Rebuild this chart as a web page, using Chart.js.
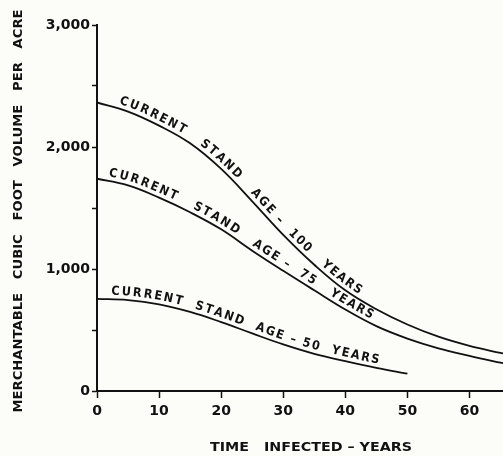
<!DOCTYPE html>
<html>
<head>
<meta charset="utf-8">
<script src="https://cdn.jsdelivr.net/npm/chart.js@4.4.1/dist/chart.umd.min.js"></script>
<style>
html,body{margin:0;padding:0;background:#fcfcf9;}
#wrap{width:503px;height:456px;}
</style>
</head>
<body>
<div id="wrap"><canvas id="c" width="503" height="456"></canvas></div>
<script>
// ---- data ----
const years = [0, 5, 10, 15, 20, 25, 30, 35, 40, 45, 50, 55, 60, 65, 66];
const age100 = [2365, 2290, 2175, 2030, 1820, 1555, 1280, 1035, 825, 670, 545, 445, 370, 312, 302];
const age75  = [1740, 1685, 1585, 1465, 1325, 1150, 985, 825, 668, 532, 430, 350, 288, 232, 222];
const age50  = [755, 745, 710, 648, 565, 472, 382, 305, 245, 190, 142];
const xTickValues = [0, 10, 20, 30, 40, 50, 60];
const curveLabels = ['CURRENT   STAND   AGE –  100   YEARS', 'CURRENT   STAND   AGE –  75   YEARS', 'CURRENT  STAND  AGE – 50  YEARS'];
const labelStart = [3.3, 1.7, 2.2];
const yTitle = 'MERCHANTABLE   CUBIC   FOOT   VOLUME   PER   ACRE';
const xTitle = 'TIME   INFECTED – YEARS';

function pts(vals) { return vals.map((v, i) => ({x: years[i], y: v})); }

const FONT = '"DejaVu Sans", sans-serif';

const bgPlugin = {
  id: 'bg',
  beforeDraw(chart) {
    const ctx = chart.ctx;
    ctx.save();
    ctx.fillStyle = '#fcfcf9';
    ctx.fillRect(0, 0, chart.width, chart.height);
    ctx.restore();
  }
};

function samplePath(meta) {
  const P = meta.data;
  const out = [];
  for (let i = 0; i < P.length - 1; i++) {
    const a = P[i], b = P[i + 1];
    const c1x = a.cp2x ?? a.x, c1y = a.cp2y ?? a.y;
    const c2x = b.cp1x ?? b.x, c2y = b.cp1y ?? b.y;
    for (let k = 0; k < 40; k++) {
      const t = k / 40, u = 1 - t;
      out.push({
        x: u*u*u*a.x + 3*u*u*t*c1x + 3*u*t*t*c2x + t*t*t*b.x,
        y: u*u*u*a.y + 3*u*u*t*c1y + 3*u*t*t*c2y + t*t*t*b.y
      });
    }
  }
  const last = P[P.length - 1];
  out.push({x: last.x, y: last.y});
  let s = 0;
  out[0].s = 0;
  for (let i = 1; i < out.length; i++) {
    s += Math.hypot(out[i].x - out[i-1].x, out[i].y - out[i-1].y);
    out[i].s = s;
  }
  return out;
}

function pointAt(path, s) {
  for (let i = 1; i < path.length; i++) {
    if (path[i].s >= s) {
      const a = path[i-1], b = path[i];
      const f = (s - a.s) / ((b.s - a.s) || 1);
      return {x: a.x + (b.x - a.x) * f, y: a.y + (b.y - a.y) * f, ang: Math.atan2(b.y - a.y, b.x - a.x)};
    }
  }
  const a = path[path.length-2], b = path[path.length-1];
  return {x: b.x, y: b.y, ang: Math.atan2(b.y - a.y, b.x - a.x)};
}

const pathTextPlugin = {
  id: 'pathText',
  afterDatasetsDraw(chart) {
    const ctx = chart.ctx;
    const xs = chart.scales.x;
    const sx = 0.9;
    ctx.save();
    ctx.font = 'bold 12.5px ' + FONT;
    ctx.fillStyle = '#111';
    ctx.textBaseline = 'alphabetic';
    chart.data.datasets.forEach((ds, di) => {
      const path = samplePath(chart.getDatasetMeta(di));
      const startPx = xs.getPixelForValue(labelStart[di]);
      let s = 0;
      for (const p of path) { if (p.x >= startPx) { s = p.s; break; } }
      const offset = 4.5;
      for (const ch of curveLabels[di]) {
        const w0 = ctx.measureText(ch).width;
        const w = w0 * sx;
        const p = pointAt(path, s + w / 2);
        const nx = Math.sin(p.ang), ny = -Math.cos(p.ang);
        ctx.save();
        ctx.translate(p.x + nx * offset, p.y + ny * offset);
        ctx.rotate(p.ang);
        ctx.scale(sx, 1);
        ctx.fillText(ch, -w0 / 2, 0);
        ctx.restore();
        s += w + 1.8;
      }
    });
    ctx.restore();
  }
};

function fitText(ctx, text, cx, cy, width, rot) {
  ctx.save();
  ctx.translate(cx, cy);
  ctx.rotate(rot);
  const w = ctx.measureText(text).width;
  ctx.scale(width / w, 1);
  ctx.fillText(text, 0, 0);
  ctx.restore();
}

const titlePlugin = {
  id: 'axisTitles',
  afterDraw(chart) {
    const ctx = chart.ctx;
    ctx.save();
    ctx.fillStyle = '#111';
    ctx.textAlign = 'center';
    ctx.textBaseline = 'middle';
    ctx.font = 'bold 12px ' + FONT;
    fitText(ctx, xTitle, 311, 448, 202, 0);
    ctx.font = 'bold 13px ' + FONT;
    fitText(ctx, yTitle, 19, 211, 403, -Math.PI / 2);
    ctx.restore();
  }
};

const lineStyle = {borderColor: '#111', borderWidth: 1.8, pointRadius: 0, fill: false, tension: 0.4};

new Chart(document.getElementById('c'), {
  type: 'line',
  data: {
    datasets: [
      Object.assign({label: 'Current stand age - 100 years', data: pts(age100)}, lineStyle),
      Object.assign({label: 'Current stand age - 75 years', data: pts(age75)}, lineStyle),
      Object.assign({label: 'Current stand age - 50 years', data: pts(age50)}, lineStyle)
    ]
  },
  options: {
    responsive: false,
    animation: false,
    layout: {padding: {top: 25, right: 0, left: 0, bottom: 0}},
    plugins: {legend: {display: false}, tooltip: {enabled: false}},
    scales: {
      x: {
        type: 'linear',
        min: 0,
        max: 65.4,
        afterBuildTicks(scale) { scale.ticks = xTickValues.map(v => ({value: v})); },
        afterFit(scale) { scale.height = 65; },
        border: {display: true, color: '#111', width: 2},
        grid: {drawOnChartArea: false, drawTicks: true, tickLength: 7, tickWidth: 1.5, tickColor: '#111'},
        ticks: {color: '#111', padding: 5, maxRotation: 0, autoSkip: false,
                font: {family: FONT, size: 14, weight: 'bold'}}
      },
      y: {
        min: 0,
        max: 3000,
        afterFit(scale) { scale.width = 97; },
        border: {display: true, color: '#111', width: 2},
        grid: {drawOnChartArea: false, drawTicks: true, tickLength: 5, tickWidth: 1.5, tickColor: '#111'},
        ticks: {stepSize: 500, color: '#111', padding: 2, autoSkip: false,
                font: {family: FONT, size: 14, weight: 'bold'},
                callback: v => (v % 1000 === 0 ? (v === 0 ? '0' : (v / 1000) + ',000') : '')}
      }
    }
  },
  plugins: [bgPlugin, pathTextPlugin, titlePlugin]
});
</script>
</body>
</html>
